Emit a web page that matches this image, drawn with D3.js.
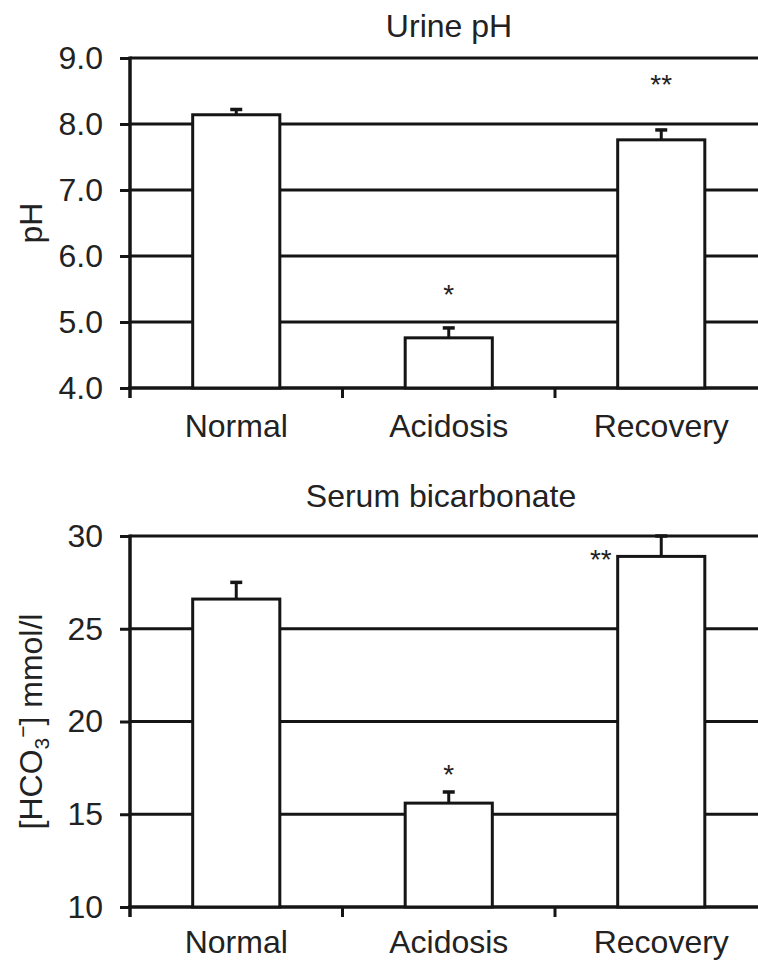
<!DOCTYPE html>
<html>
<head>
<meta charset="utf-8" />
<title>Urine pH and serum bicarbonate</title>
<script src="https://cdn.jsdelivr.net/npm/d3@7"></script>
<style>
  body { margin: 0; background: #fff; }
  text { font-family: "Liberation Sans", Arial, Helvetica, sans-serif; fill: #222; }
</style>
</head>
<body>
<script>

var categories = ["Normal", "Acidosis", "Recovery"];

var phMeans = [8.14, 4.76, 7.76];
var phErrors = [0.08, 0.15, 0.15];
var phTicks = [4, 5, 6, 7, 8, 9];
var phStars = ["", "*", "**"];
var phStarLevels = [null, 5.52, 8.7];

var bicMeans = [26.6, 15.6, 28.9];
var bicErrors = [0.9, 0.6, 1.1];
var bicTicks = [10, 15, 20, 25, 30];
var bicStars = ["", "*", "**"];
var bicStarLevels = [null, 17.5, 29.1];

var W = 758, H = 960;
var ink = "#151515";
var fontSize = 32;

var svg = d3.select("body").append("svg")
    .attr("width", W)
    .attr("height", H);

var x = d3.scaleBand()
    .domain(categories)
    .range([130, 767.5])
    .padding(0);

var barW = x.bandwidth() * 0.41;

function drawPanel(p) {
  var y = d3.scaleLinear().domain(p.domain).range([p.bottom, p.top]);
  var g = svg.append("g");

  // grid lines
  g.selectAll("line.grid")
    .data(p.ticks.slice(1))
    .enter().append("line")
    .attr("x1", 130).attr("x2", W)
    .attr("y1", function(d){ return y(d); })
    .attr("y2", function(d){ return y(d); })
    .attr("stroke", ink).attr("stroke-width", 3);

  // y axis
  var yAxis = d3.axisLeft(y).tickValues(p.ticks).tickSize(10).tickPadding(17)
    .tickFormat(p.format);
  var ya = g.append("g").attr("transform", "translate(130,0)").call(yAxis);
  ya.select(".domain").remove();
  ya.selectAll(".tick line").attr("stroke", ink).attr("stroke-width", 3);
  ya.selectAll(".tick text").attr("font-size", fontSize).attr("fill", "#222")
    .attr("font-family", "Liberation Sans, Arial, sans-serif");
  g.append("line")
    .attr("x1", 130).attr("x2", 130)
    .attr("y1", p.top - 1.5).attr("y2", p.bottom + 10)
    .attr("stroke", ink).attr("stroke-width", 3.5);

  // x axis
  g.append("line")
    .attr("x1", 128).attr("x2", W)
    .attr("y1", p.bottom).attr("y2", p.bottom)
    .attr("stroke", ink).attr("stroke-width", 3.5);
  g.selectAll("line.xtick")
    .data(categories.slice(1))
    .enter().append("line")
    .attr("x1", function(d){ return x(d); })
    .attr("x2", function(d){ return x(d); })
    .attr("y1", p.bottom).attr("y2", p.bottom + 10)
    .attr("stroke", ink).attr("stroke-width", 3);
  g.selectAll("text.xlab")
    .data(categories)
    .enter().append("text")
    .attr("x", function(d){ return x(d) + x.bandwidth() / 2; })
    .attr("y", p.bottom + p.labelGap)
    .attr("text-anchor", "middle")
    .attr("font-size", fontSize)
    .text(function(d){ return d; });

  // error bars
  g.selectAll("line.err")
    .data(categories)
    .enter().append("line")
    .attr("x1", function(d){ return x(d) + x.bandwidth() / 2; })
    .attr("x2", function(d){ return x(d) + x.bandwidth() / 2; })
    .attr("y1", function(d, i){ return y(p.means[i]); })
    .attr("y2", function(d, i){ return y(p.means[i] + p.errors[i]); })
    .attr("stroke", ink).attr("stroke-width", 3);
  g.selectAll("line.cap")
    .data(categories)
    .enter().append("line")
    .attr("x1", function(d){ return x(d) + x.bandwidth() / 2 - 6; })
    .attr("x2", function(d){ return x(d) + x.bandwidth() / 2 + 6; })
    .attr("y1", function(d, i){ return y(p.means[i] + p.errors[i]); })
    .attr("y2", function(d, i){ return y(p.means[i] + p.errors[i]); })
    .attr("stroke", ink).attr("stroke-width", 3.5);

  // bars
  g.selectAll("rect.bar")
    .data(categories)
    .enter().append("rect")
    .attr("x", function(d){ return x(d) + (x.bandwidth() - barW) / 2; })
    .attr("y", function(d, i){ return y(p.means[i]); })
    .attr("width", barW)
    .attr("height", function(d, i){ return p.bottom - y(p.means[i]); })
    .attr("fill", "#fff")
    .attr("stroke", ink).attr("stroke-width", 3);

  // significance stars
  g.selectAll("text.star")
    .data(categories)
    .enter().append("text")
    .attr("x", function(d, i){
      var c = x(d) + x.bandwidth() / 2;
      return p.starLeft[i] ? c - barW / 2 - 6 : c;
    })
    .attr("y", function(d, i){ return p.starLevels[i] == null ? 0 : y(p.starLevels[i]) + 16; })
    .attr("text-anchor", function(d, i){ return p.starLeft[i] ? "end" : "middle"; })
    .attr("font-size", 28)
    .text(function(d, i){ return p.stars[i]; });

  // title
  g.append("text")
    .attr("x", p.titleX).attr("y", p.top - p.titleGap)
    .attr("text-anchor", "middle")
    .attr("font-size", fontSize)
    .text(p.title);

  // y label
  var yl = g.append("text")
    .attr("transform", "translate(42," + ((p.top + p.bottom) / 2) + ") rotate(-90)")
    .attr("text-anchor", "middle")
    .attr("font-size", fontSize);
  p.ylabel(yl);
}

drawPanel({
  top: 58, bottom: 388, domain: [4, 9], ticks: phTicks,
  format: d3.format(".1f"),
  means: phMeans, errors: phErrors,
  stars: phStars, starLevels: phStarLevels, starLeft: [false, false, false],
  title: "Urine pH", titleX: 449, titleGap: 21, labelGap: 49,
  ylabel: function(t){ t.text("pH"); }
});

drawPanel({
  top: 536, bottom: 907, domain: [10, 30], ticks: bicTicks,
  format: d3.format("d"),
  means: bicMeans, errors: bicErrors,
  stars: bicStars, starLevels: bicStarLevels, starLeft: [false, false, true],
  title: "Serum bicarbonate", titleX: 441, titleGap: 29, labelGap: 46,
  ylabel: function(t){
    t.append("tspan").text("[HCO");
    t.append("tspan").attr("dy", 7).attr("font-size", 21).text("3");
    t.append("tspan").attr("dy", -19).attr("font-size", 21).text("\u2212");
    t.append("tspan").attr("dy", 12).text("] mmol/l");
  }
});

</script>
</body>
</html>
